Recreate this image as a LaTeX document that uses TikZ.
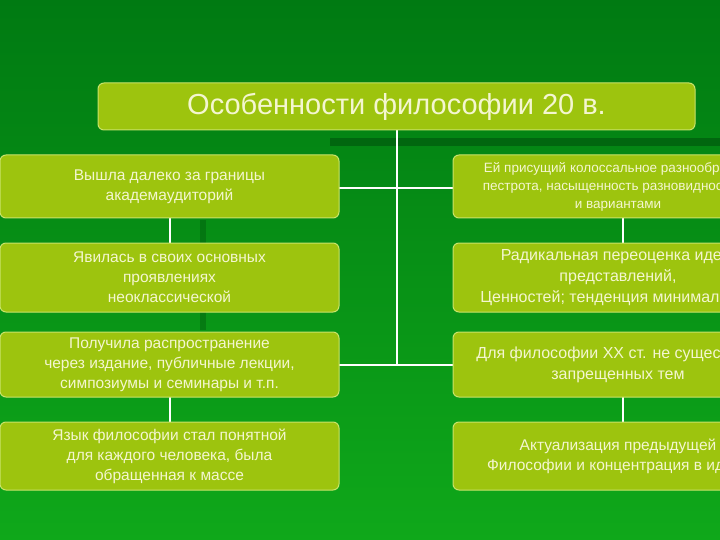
\documentclass[tikz,border=0pt]{standalone}
\usepackage{fontspec}
\setmainfont{Liberation Sans}
\definecolor{bgtop}{HTML}{007A12}
\definecolor{bgbot}{HTML}{0FA81A}
\definecolor{boxfill}{HTML}{9DC40E}
\definecolor{boxline}{HTML}{C9E36A}
\definecolor{txt}{HTML}{F4F6D0}
\begin{document}
\begin{tikzpicture}[x=1pt,y=-1pt,
  box/.style={draw=boxline,line width=1pt,fill=boxfill,rounded corners=6pt,text=txt,align=center,inner sep=0pt},
  conn/.style={draw=white,line width=1.5pt}]
\useasboundingbox (0,0) rectangle (720,540);
\clip (0,0) rectangle (720,540);
\shade[top color=bgtop,bottom color=bgbot] (0,0) rectangle (720,540);
\fill[black!40!bgtop,opacity=0.5] (330,138) rectangle (720,146);
\fill[black!30!bgtop,opacity=0.4] (200,220) rectangle (206,330);
% connectors
\coordinate (j1) at (397,188);
\coordinate (j2) at (397,365);
\draw[conn] (397,130) -- (j2);
\draw[conn] (339,188) -- (453,188);
\draw[conn] (339,365) -- (453,365);
\draw[conn] (170,218) -- (170,243);
\draw[conn] (170,397) -- (170,422);
\draw[conn] (623,218) -- (623,243);
\draw[conn] (623,397) -- (623,422);
% boxes
\node[box,minimum width=597,minimum height=47,font=\fontsize{29}{33}\selectfont] (t) at (396.5,106.5) {Особенности философии 20 в.};
\begin{scope}[every node/.append style={box,minimum width=339,font=\fontsize{15.5}{20}\selectfont}]
\node[minimum height=63] (l1) at (169.5,186.5) {Вышла далеко за границы\\академаудиторий};
\node[minimum height=69] (l2) at (169.5,277.5) {Явилась в своих основных\\проявлениях\\неоклассической};
\node[minimum height=65] (l3) at (169.5,364.5) {Получила распространение\\через издание, публичные лекции,\\симпозиумы и семинары и т.п.};
\node[minimum height=68] (l4) at (169.5,456) {Язык философии стал понятной\\для каждого человека, была\\обращенная к массе};
\end{scope}
\begin{scope}[every node/.append style={box,minimum width=330}]
\node[minimum height=63,font=\fontsize{13.5}{18}\selectfont] (r1) at (618,186.5) {Ей присущий колоссальное разнообразие,\\пестрота, насыщенность разновидностями\\и вариантами};
\node[minimum height=69,font=\fontsize{16}{21}\selectfont] (r2) at (618,277.5) {Радикальная переоценка идей,\\представлений,\\Ценностей; тенденция минимализма};
\node[minimum height=65,font=\fontsize{16}{21}\selectfont] (r3) at (618,364.5) {Для философии ХХ ст. не существует\\запрещенных тем};
\node[minimum height=68,font=\fontsize{15.5}{20}\selectfont] (r4) at (618,456) {Актуализация предыдущей\\Философии и концентрация в идеях};
\end{scope}
\end{tikzpicture}
\end{document}
